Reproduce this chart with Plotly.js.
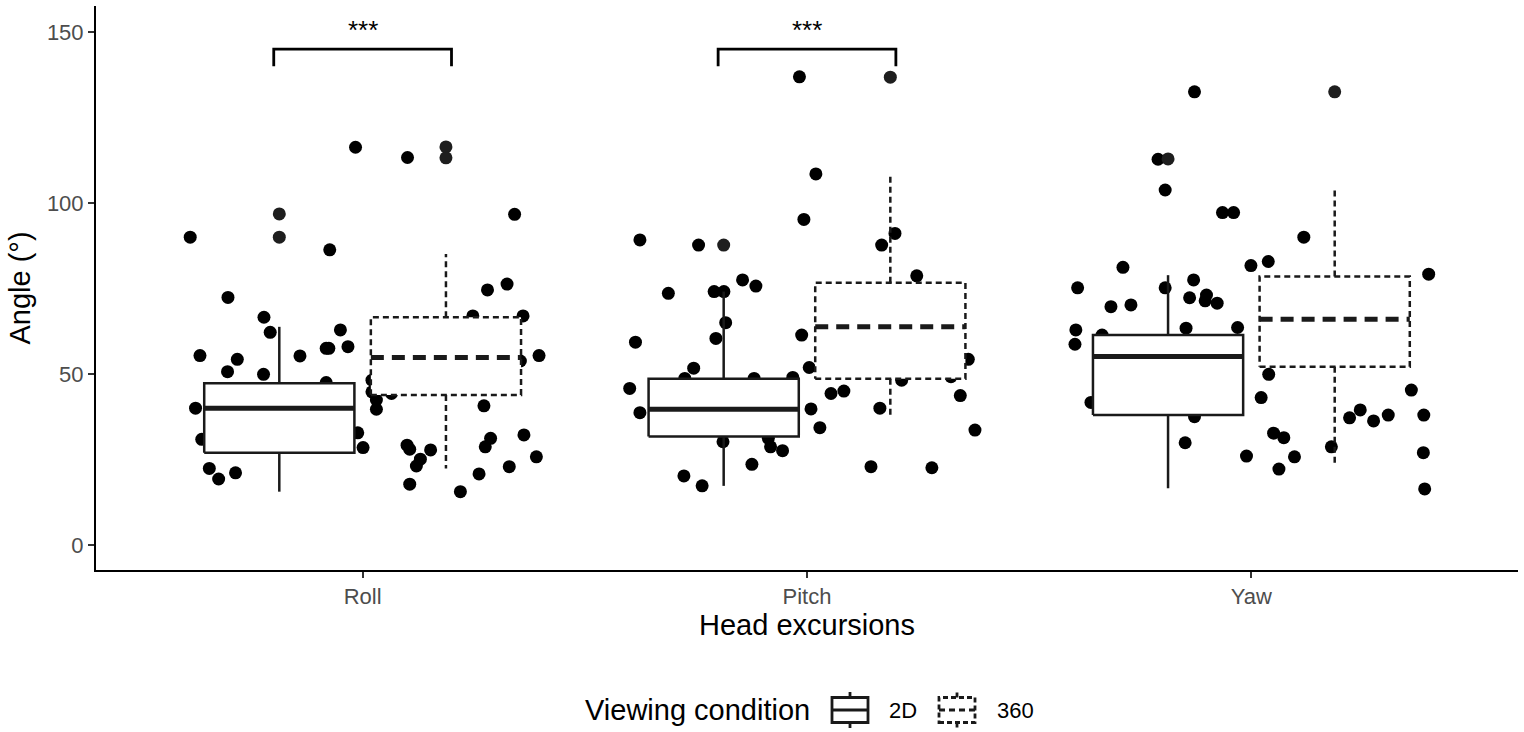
<!DOCTYPE html>
<html><head><meta charset="utf-8">
<script src="https://cdn.plot.ly/plotly-3.0.1.min.js"></script>
<style>html,body{margin:0;padding:0;background:#fff}#chart{width:1524px;height:732px}</style>
</head><body><div id="chart"></div>
<script>
// ---------- data ----------
const categories = ['Roll', 'Pitch', 'Yaw'];
const conditions = ['2D', '360'];

const q1_2D      = [27.0, 31.7, 38.0];
const median_2D  = [40.0, 39.7, 55.1];
const q3_2D      = [47.3, 48.6, 61.4];
const lower_2D   = [15.6, 17.3, 16.6];
const upper_2D   = [63.8, 74.1, 78.9];
const outliers_2D = [[96.8, 90.0], [87.7], [112.9]];

const q1_360      = [43.9, 48.6, 52.1];
const median_360  = [54.8, 63.8, 66.0];
const q3_360      = [66.6, 76.7, 78.5];
const lower_360   = [22.4, 37.0, 23.1];
const upper_360   = [85.1, 108.5, 103.8];
const outliers_360 = [[116.4, 113.2], [136.8], [132.5]];

// jittered observations (value, horizontal jitter in category units)
const roll_y = [116.3,113.3,96.7,90.0,86.3,72.4,76.3,74.6,66.6,67.0,67.0,62.2,62.9,55.4,54.3,55.3,57.5,57.5,58.0,55.4,53.8,50.7,49.9,47.5,48.2,44.8,44.3,42.4,39.7,40.0,40.7,30.9,32.8,28.5,29.2,28.0,27.8,25.1,23.1,31.2,28.7,32.2,25.8,22.9,20.8,15.6,17.8,22.4,19.3,21.1];
const roll_jitter = [-0.016,0.101,0.342,-0.388,-0.074,-0.303,0.325,0.281,-0.222,0.361,0.248,-0.208,-0.050,-0.366,-0.282,-0.141,-0.082,-0.076,-0.033,0.397,0.355,-0.304,-0.223,-0.082,0.021,0.021,0.065,0.031,0.031,-0.376,0.273,-0.362,-0.011,0.001,0.100,0.106,0.153,0.130,0.121,0.288,0.276,0.363,0.391,0.330,0.262,0.220,0.106,-0.345,-0.324,-0.286];
const pitch_y = [136.9,108.5,95.2,89.2,87.7,91.1,87.7,73.6,74.1,74.1,77.5,75.7,78.7,65.0,60.4,61.4,59.3,51.9,51.7,54.3,48.2,49.2,45.8,44.3,45.0,43.7,38.7,39.8,40.0,48.7,48.7,49.0,30.2,31.2,28.7,27.6,34.3,33.6,23.6,22.9,22.6,20.2,17.3];
const pitch_jitter = [-0.017,0.020,-0.007,-0.376,-0.244,0.198,0.168,-0.312,-0.209,-0.187,-0.145,-0.115,0.247,-0.183,-0.205,-0.012,-0.386,0.005,-0.255,0.363,0.213,0.324,-0.399,0.054,0.083,0.345,-0.376,0.009,0.164,-0.275,-0.119,-0.032,-0.189,-0.087,-0.082,-0.055,0.029,0.378,-0.124,0.144,0.281,-0.277,-0.236];
const yaw_y = [132.5,112.8,103.8,97.2,97.2,90.0,81.7,82.9,79.2,81.2,75.2,75.2,77.5,72.3,73.1,71.4,70.7,69.7,70.2,62.9,58.7,63.4,63.6,61.4,49.9,43.1,41.7,37.5,29.9,45.3,37.2,39.5,36.3,38.0,38.0,32.7,31.4,28.7,26.0,25.8,22.2,27.0,16.4];
const yaw_jitter = [-0.128,-0.210,-0.194,-0.065,-0.040,0.118,-0.001,0.038,0.399,-0.289,-0.391,-0.194,-0.130,-0.139,-0.101,-0.104,-0.077,-0.316,-0.271,-0.395,-0.397,-0.147,-0.031,-0.336,0.039,0.022,-0.361,-0.128,-0.149,0.360,0.221,0.245,0.275,0.308,0.388,0.050,0.073,0.180,-0.011,0.097,0.062,0.387,0.390];

// significance comparisons
const sig_categories = ['Roll', 'Pitch'];
const sig_labels = ['***', '***'];
const sig_top = [145, 145];
const sig_tip = [140, 140];

const yTicks = [0, 50, 100, 150];

// ---------- construction ----------
const FONT = 'Liberation Sans, Arial, Helvetica, sans-serif';
const DODGE = 0.1875;       // half of dodge width 0.75
const HALF_W = 0.169;       // half box width
const BRACKET_HALF = 0.2;
const LW = 2.5;

const pointsSets = [[roll_y, roll_jitter], [pitch_y, pitch_jitter], [yaw_y, yaw_jitter]];
const px = [], py = [];
pointsSets.forEach(([ys, js], i) => {
  ys.forEach((v, k) => { px.push(i + js[k]); py.push(v); });
});

const traces = [];
traces.push({
  type: 'scatter', mode: 'markers', x: px, y: py,
  marker: {color: '#000', size: 13}, hoverinfo: 'y', showlegend: false
});

function boxTraces(q1, med, q3, lo, hi, outl, offset, dash, mdash) {
  const bx = [], by = [], wx = [], wy = [], mx = [], my = [], ox = [], oy = [];
  categories.forEach((c, i) => {
    const cx = i + offset, l = cx - HALF_W, r = cx + HALF_W;
    bx.push(l, r, r, l, l, null); by.push(q1[i], q1[i], q3[i], q3[i], q1[i], null);
    wx.push(cx, cx, null, cx, cx, null); wy.push(q3[i], hi[i], null, q1[i], lo[i], null);
    mx.push(l, r, null); my.push(med[i], med[i], null);
    outl[i].forEach(v => { ox.push(cx); oy.push(v); });
  });
  return [
    {type: 'scatter', mode: 'lines', x: bx, y: by, fill: 'toself', fillcolor: '#fff',
     line: {color: '#1a1a1a', width: LW, dash: dash}, hoverinfo: 'skip', showlegend: false},
    {type: 'scatter', mode: 'lines', x: wx, y: wy,
     line: {color: '#1a1a1a', width: LW, dash: dash}, hoverinfo: 'skip', showlegend: false},
    {type: 'scatter', mode: 'lines', x: mx, y: my,
     line: {color: '#1a1a1a', width: 5, dash: mdash}, hoverinfo: 'skip', showlegend: false},
    {type: 'scatter', mode: 'markers', x: ox, y: oy,
     marker: {color: '#1e1e1e', size: 13}, hoverinfo: 'y', showlegend: false}
  ];
}
traces.push(...boxTraces(q1_2D, median_2D, q3_2D, lower_2D, upper_2D, outliers_2D, -DODGE, 'solid', 'solid'));
traces.push(...boxTraces(q1_360, median_360, q3_360, lower_360, upper_360, outliers_360, DODGE, '6px,4px', '13px,8px'));

// significance brackets
const sx = [], sy = [];
const annotations = [];
sig_categories.forEach((c, k) => {
  const i = categories.indexOf(c);
  sx.push(i - BRACKET_HALF, i - BRACKET_HALF, i + BRACKET_HALF, i + BRACKET_HALF, null);
  sy.push(sig_tip[k], sig_top[k], sig_top[k], sig_tip[k], null);
  annotations.push({x: i, y: sig_top[k] + 0.5, xref: 'x', yref: 'y', text: sig_labels[k],
    showarrow: false, yanchor: 'bottom', font: {family: FONT, size: 26, color: '#000'}});
});
traces.push({type: 'scatter', mode: 'lines', x: sx, y: sy,
  line: {color: '#000', width: 2.8}, hoverinfo: 'skip', showlegend: false});

// ---------- custom legend (paper coords from page pixels) ----------
const W = 1524, H = 732, M = {l: 96, r: 6, t: 6, b: 162};
const pw = W - M.l - M.r, ph = H - M.t - M.b;
const PX = X => (X - M.l) / pw;
const PY = Y => (H - M.b - Y) / ph;
const shapes = [];
const legY = 710;
annotations.push({x: PX(812), y: PY(legY), xref: 'paper', yref: 'paper', xanchor: 'right', yanchor: 'middle',
  text: 'Viewing condition', showarrow: false, font: {family: FONT, size: 29, color: '#000'}});
function legendIcon(x0, dash, mdash) {
  const x1 = x0 + 36, cx = x0 + 18;
  shapes.push({type: 'rect', xref: 'paper', yref: 'paper', x0: PX(x0), x1: PX(x1), y0: PY(legY + 12.5), y1: PY(legY - 12.5),
    line: {color: '#1a1a1a', width: 2.8, dash: dash}, fillcolor: '#fff'});
  shapes.push({type: 'line', xref: 'paper', yref: 'paper', x0: PX(x0), x1: PX(x1), y0: PY(legY), y1: PY(legY),
    line: {color: '#1a1a1a', width: 3, dash: mdash}});
  shapes.push({type: 'line', xref: 'paper', yref: 'paper', x0: PX(cx), x1: PX(cx), y0: PY(legY - 12.5), y1: PY(legY - 18),
    line: {color: '#1a1a1a', width: 2.8, dash: dash}});
  shapes.push({type: 'line', xref: 'paper', yref: 'paper', x0: PX(cx), x1: PX(cx), y0: PY(legY + 12.5), y1: PY(legY + 18),
    line: {color: '#1a1a1a', width: 2.8, dash: dash}});
}
legendIcon(832, 'solid', 'solid');
legendIcon(939, '5px,3px', '6px,4px');
annotations.push({x: PX(887), y: PY(legY), xref: 'paper', yref: 'paper', xanchor: 'left', yanchor: 'middle',
  text: conditions[0], showarrow: false, font: {family: FONT, size: 22, color: '#000'}});
annotations.push({x: PX(995), y: PY(legY), xref: 'paper', yref: 'paper', xanchor: 'left', yanchor: 'middle',
  text: conditions[1], showarrow: false, font: {family: FONT, size: 22, color: '#000'}});

const layout = {
  width: W, height: H,
  margin: M,
  paper_bgcolor: '#fff', plot_bgcolor: '#fff',
  showlegend: false,
  font: {family: FONT, color: '#000'},
  xaxis: {
    range: [-0.6, 2.6], tickvals: [0, 1, 2], ticktext: categories,
    showgrid: false, zeroline: false, showline: true, linecolor: '#000', linewidth: 2,
    ticks: 'outside', ticklen: 6, tickwidth: 2, tickcolor: '#333',
    tickfont: {family: FONT, size: 22, color: '#4d4d4d'},
    title: {text: 'Head excursions', font: {family: FONT, size: 29, color: '#000'}, standoff: 6}
  },
  yaxis: {
    range: [-7.3, 157.6], tickvals: yTicks,
    showgrid: false, zeroline: false, showline: true, linecolor: '#000', linewidth: 2,
    ticks: 'outside', ticklen: 6, tickwidth: 2, tickcolor: '#333',
    tickfont: {family: FONT, size: 22, color: '#4d4d4d'},
    title: {text: 'Angle (°)', font: {family: FONT, size: 29, color: '#000'}, standoff: 8}
  },
  annotations: annotations,
  shapes: shapes
};

Plotly.newPlot('chart', traces, layout, {displayModeBar: false, staticPlot: true});
</script>
</body></html>
